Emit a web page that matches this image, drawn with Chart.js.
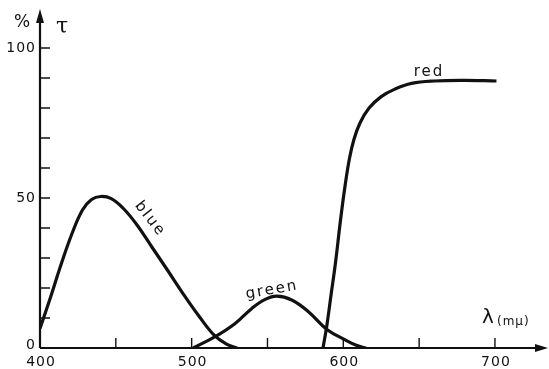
<!DOCTYPE html>
<html>
<head>
<meta charset="utf-8">
<script src="https://cdn.jsdelivr.net/npm/chart.js@4"></script>
<style>
  body { margin: 0; background: #fff; }
  #wrap { width: 549px; height: 369px; }
</style>
</head>
<body>
<div id="wrap"><canvas id="filterChart" width="549" height="369"></canvas></div>
<script>
// --- DATA (wavelength in m\u03bc, transmission in %) ---
const blueWave  = [400, 407, 414, 421, 428, 434, 440, 447, 455, 464, 474, 484, 495.7, 505, 515, 523, 530];
const blueVals  = [6.5, 17, 28, 38, 46, 49.5, 50.5, 49.8, 46.5, 41, 33.5, 26, 17.1, 10.5, 4.2, 1.3, 0];

const greenWave = [501, 515.5, 528.7, 539.7, 548.5, 556.2, 566, 577, 589.2, 601.3, 609, 615];
const greenVals = [0, 3.8, 8.2, 13.2, 16.2, 17.3, 16, 12.1, 6.2, 2.7, 0.8, 0];

const redWave   = [586.6, 589, 592, 595, 598, 601, 604, 607, 611, 617, 625, 634, 645, 660, 680, 701];
const redVals   = [0, 7, 18, 29, 42, 53.5, 63, 69.5, 75, 80, 83.8, 86.3, 88.2, 89, 89.2, 89];

const xTickLabels = [400, 500, 600, 700];
const xTickMarks  = [450, 500, 550, 600, 650, 700];
const yTickLabels = [0, 50, 100];
const yTickMarks  = [10, 20, 30, 40, 50, 60, 70, 80, 90, 100];

const toPoints = (xs, ys) => xs.map((x, i) => ({ x: x, y: ys[i] }));

const lineStyle = {
    borderColor: '#111',
    borderWidth: 3.2,
    pointRadius: 0,
    fill: false,
    tension: 0.4
};

// draws the hand-lettered axes, arrows and labels using the chart's scales
const axesPlugin = {
    id: 'axesPlugin',
    afterDatasetsDraw(chart) {
        const ctx = chart.ctx;
        const xs = chart.scales.x;
        const ys = chart.scales.y;
        const x0 = xs.getPixelForValue(400);
        const y0 = ys.getPixelForValue(0);
        const xEnd = chart.width - 1;
        const yTop = 9;

        ctx.save();
        ctx.strokeStyle = '#111';
        ctx.fillStyle = '#111';
        ctx.lineWidth = 2.2;

        // axis lines
        ctx.beginPath();
        ctx.moveTo(x0, y0);
        ctx.lineTo(x0, yTop + 8);
        ctx.moveTo(x0, y0);
        ctx.lineTo(xEnd - 8, y0);
        ctx.stroke();

        // arrow heads
        ctx.beginPath();
        ctx.moveTo(x0, yTop);
        ctx.lineTo(x0 - 4, yTop + 14);
        ctx.lineTo(x0 + 4, yTop + 14);
        ctx.closePath();
        ctx.fill();
        ctx.beginPath();
        ctx.moveTo(xEnd, y0);
        ctx.lineTo(xEnd - 13, y0 - 4);
        ctx.lineTo(xEnd - 13, y0 + 4);
        ctx.closePath();
        ctx.fill();

        // tick marks pointing into the plot
        ctx.lineWidth = 1.4;
        ctx.beginPath();
        xTickMarks.forEach(v => {
            const px = xs.getPixelForValue(v);
            ctx.moveTo(px, y0);
            ctx.lineTo(px, y0 - 10);
        });
        yTickMarks.forEach(v => {
            const py = ys.getPixelForValue(v);
            ctx.moveTo(x0, py);
            ctx.lineTo(x0 + 10, py);
        });
        ctx.stroke();

        // tick labels
        ctx.font = '14px "DejaVu Sans"';
        ctx.letterSpacing = '1px';
        ctx.textBaseline = 'middle';
        ctx.textAlign = 'center';
        xTickLabels.forEach(v => {
            ctx.fillText(String(v), xs.getPixelForValue(v) + 1, y0 + 14);
        });
        ctx.textAlign = 'right';
        yTickLabels.forEach(v => {
            const py = ys.getPixelForValue(v);
            ctx.fillText(String(v), x0 - 4, v === 0 ? py - 3 : py);
        });

        // axis titles
        ctx.textAlign = 'center';
        ctx.letterSpacing = '0px';
        ctx.font = '17px "DejaVu Sans"';
        ctx.fillText('%', 22, 23);
        ctx.font = '22px "DejaVu Serif"';
        ctx.fillText('\u03c4', 62, 27);
        ctx.font = '20px "DejaVu Sans"';
        ctx.fillText('\u03bb', 488, 318);
        ctx.font = '12px "DejaVu Sans"';
        ctx.letterSpacing = '1px';
        ctx.textAlign = 'left';
        ctx.fillText('(m\u03bc)', 497, 322);

        // curve names
        ctx.textAlign = 'center';
        ctx.font = '15px "DejaVu Sans"';
        ctx.letterSpacing = '2px';
        ctx.fillText('red', 429, 72);

        ctx.save();
        ctx.translate(150, 219);
        ctx.rotate(52 * Math.PI / 180);
        ctx.fillText('blue', 0, 0);
        ctx.restore();

        ctx.save();
        ctx.translate(272, 290);
        ctx.rotate(-10 * Math.PI / 180);
        ctx.fillText('green', 0, 0);
        ctx.restore();

        ctx.restore();
    }
};

const ctx = document.getElementById('filterChart').getContext('2d');

new Chart(ctx, {
    type: 'line',
    data: {
        datasets: [
            Object.assign({ label: 'blue',  data: toPoints(blueWave, blueVals) }, lineStyle),
            Object.assign({ label: 'green', data: toPoints(greenWave, greenVals) }, lineStyle),
            Object.assign({ label: 'red',   data: toPoints(redWave, redVals) }, lineStyle)
        ]
    },
    options: {
        responsive: false,
        devicePixelRatio: 1,
        animation: false,
        layout: { padding: { left: 40, right: 4, top: 12, bottom: 21 } },
        plugins: {
            legend: { display: false },
            tooltip: { enabled: false }
        },
        scales: {
            x: { type: 'linear', min: 400, max: 733, display: false },
            y: { min: 0, max: 112, display: false }
        }
    },
    plugins: [axesPlugin]
});
</script>
</body>
</html>
